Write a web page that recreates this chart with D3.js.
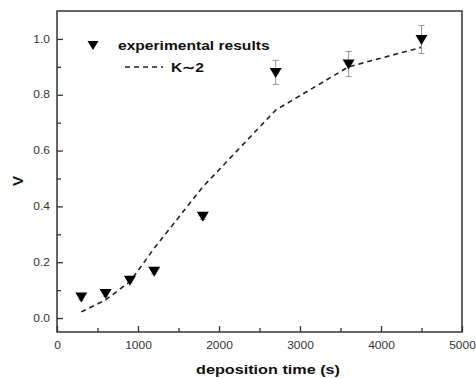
<!DOCTYPE html>
<html>
<head>
<meta charset="utf-8">
<script src="https://cdn.jsdelivr.net/npm/d3@7"></script>
<style>
  body { margin: 0; background: #fff; }
  svg { font-family: "Liberation Sans", Arial, sans-serif; }
</style>
</head>
<body>
<svg id="chart" width="476" height="378"></svg>
<script>
// deposition time (s) of each measurement
var times = [300, 600, 900, 1200, 1800, 2700, 3600, 4500];
// measured V and its error
var measured = [0.075, 0.088, 0.135, 0.168, 0.365, 0.88, 0.91, 0.998];
var errors = [0.01, 0.01, 0.008, 0.01, 0.012, 0.043, 0.045, 0.05];
// model curve K~2
var model = [0.022, 0.065, 0.13, 0.25, 0.47, 0.745, 0.9, 0.97];

var xTicks = [0, 1000, 2000, 3000, 4000, 5000];
var yTicks = [0.0, 0.2, 0.4, 0.6, 0.8, 1.0];

// the original figure's lettering is a bit wide
var stretch = "scale(1.2,1)";

var svg = d3.select("#chart"),
  margin = { top: 11, right: 14, bottom: 46, left: 57 },
  width = +svg.attr("width") - margin.left - margin.right,
  height = +svg.attr("height") - margin.top - margin.bottom,
  g = svg.append("g").attr("transform", "translate(" + margin.left + "," + margin.top + ")");

var x = d3.scaleLinear().domain([0, 5000]).range([0, width]);
var y = d3.scaleLinear().domain([-0.05, 1.1]).range([height, 0]);

// frame
g.append("rect")
  .attr("width", width)
  .attr("height", height)
  .attr("fill", "none")
  .attr("stroke", "#333")
  .attr("stroke-width", 1.5);

// minor ticks (inward)
var xMinor = d3.range(500, 5000, 1000);
var yMinor = d3.range(0.1, 1.1, 0.2);

g.append("g")
  .attr("transform", "translate(0," + height + ")")
  .call(d3.axisBottom(x).tickValues(xMinor).tickSize(-4).tickFormat(""))
  .call(function (a) { a.select(".domain").remove(); });

g.append("g")
  .call(d3.axisLeft(y).tickValues(yMinor).tickSize(-4).tickFormat(""))
  .call(function (a) { a.select(".domain").remove(); });

// major ticks
var xAxis = g.append("g")
  .attr("transform", "translate(0," + height + ")")
  .call(d3.axisBottom(x).tickValues(xTicks).tickSize(-6).tickPadding(9.5).tickFormat(d3.format("d")));
xAxis.select(".domain").remove();

var yAxis = g.append("g")
  .call(d3.axisLeft(y).tickValues(yTicks).tickSize(-6).tickPadding(5.8).tickFormat(d3.format(".1f")));
yAxis.select(".domain").remove();

g.selectAll(".tick line").attr("stroke", "#333").attr("stroke-width", 1.3);
g.selectAll(".tick text")
  .attr("font-size", 10)
  .attr("fill", "#333")
  .attr("font-family", "\"Liberation Sans\", Arial, sans-serif")
  .attr("transform", stretch);

// model curve
var line = d3.line()
  .x(function (d, i) { return x(times[i]); })
  .y(function (d) { return y(d); });

g.append("path")
  .datum(model)
  .attr("d", line)
  .attr("fill", "none")
  .attr("stroke", "#222")
  .attr("stroke-width", 1.6)
  .attr("stroke-dasharray", "5,4");

// error bars
var bars = g.append("g")
  .selectAll("g")
  .data(times)
  .enter().append("g")
  .attr("stroke", "#999")
  .attr("stroke-width", 1);

bars.append("line")
  .attr("x1", function (d) { return x(d); })
  .attr("x2", function (d) { return x(d); })
  .attr("y1", function (d, i) { return y(measured[i] + errors[i]); })
  .attr("y2", function (d, i) { return y(measured[i] - errors[i]); });

[1, -1].forEach(function (s) {
  bars.append("line")
    .attr("x1", function (d) { return x(d) - 3; })
    .attr("x2", function (d) { return x(d) + 3; })
    .attr("y1", function (d, i) { return y(measured[i] + s * errors[i]); })
    .attr("y2", function (d, i) { return y(measured[i] + s * errors[i]); });
});

// down triangles
var tri = "M-6,-4.5L6,-4.5L0,5.5Z";
g.append("g")
  .selectAll("path")
  .data(times)
  .enter().append("path")
  .attr("d", tri)
  .attr("fill", "#000")
  .attr("transform", function (d, i) { return "translate(" + x(d) + "," + y(measured[i]) + ")"; });

// legend
var legend = svg.append("g").attr("font-weight", "bold").attr("font-size", 13).attr("fill", "#111");
legend.append("path")
  .attr("d", "M-5.5,-4L5.5,-4L0,5Z")
  .attr("transform", "translate(93,45)")
  .attr("fill", "#000");
legend.append("text")
  .attr("transform", "translate(118,50) " + stretch)
  .text("experimental results");
legend.append("line")
  .attr("x1", 125).attr("x2", 163)
  .attr("y1", 67).attr("y2", 67)
  .attr("stroke", "#222")
  .attr("stroke-width", 1.6)
  .attr("stroke-dasharray", "5,4");
legend.append("text")
  .attr("transform", "translate(171,72) " + stretch)
  .text("K\u223C2");

// axis titles
svg.append("text")
  .attr("transform", "translate(268,374) " + stretch)
  .attr("text-anchor", "middle")
  .attr("font-weight", "bold")
  .attr("font-size", 13.5)
  .attr("fill", "#111")
  .text("deposition time (s)");

svg.append("text")
  .attr("transform", "translate(23,181) rotate(-90)")
  .attr("text-anchor", "middle")
  .attr("font-weight", "bold")
  .attr("font-size", 15)
  .attr("fill", "#111")
  .text("V");
</script>
</body>
</html>
